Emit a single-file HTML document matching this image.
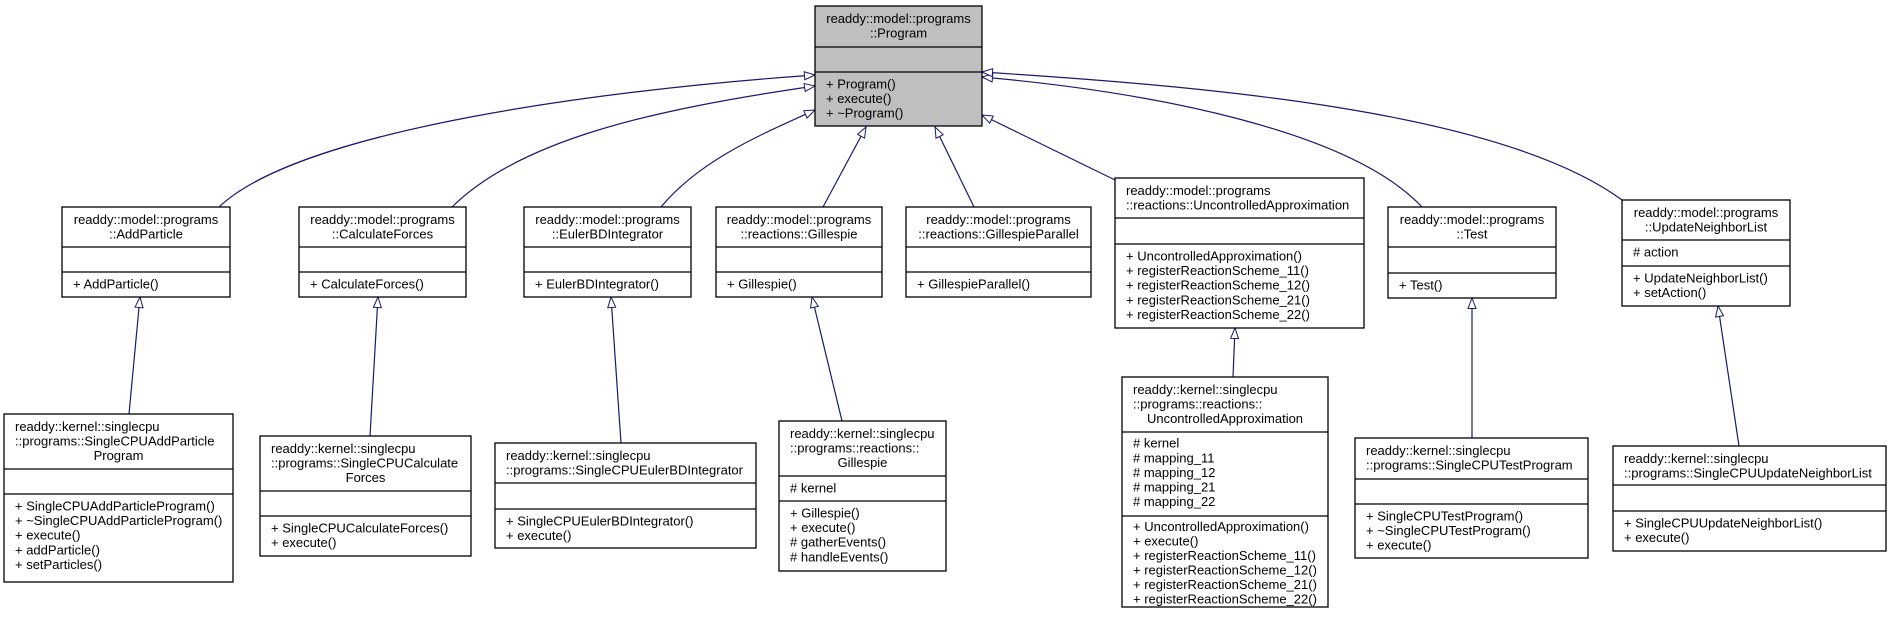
<!DOCTYPE html>
<html><head><meta charset="utf-8"><style>
html,body{margin:0;padding:0;background:#fff;}
svg{display:block;}
text{font-family:"Liberation Sans",Arial,sans-serif;font-size:13px;fill:#000;}
.b{fill:#fff;stroke:#000;stroke-width:1.3;}
.s{stroke:#000;stroke-width:1.3;}
.e{fill:none;stroke:#191970;stroke-width:1.2;}
</style></head><body>
<svg width="1887" height="621" viewBox="0 0 1887 621" xmlns="http://www.w3.org/2000/svg">
<defs>
<marker id="a" viewBox="0 0 12 10" refX="11.5" refY="5" markerWidth="12" markerHeight="10" markerUnits="userSpaceOnUse" orient="auto">
<path d="M1,1 L11.5,5 L1,9 Z" fill="#fff" stroke="#191970" stroke-width="1"/>
</marker>
</defs>

<path class="e" marker-end="url(#a)" d="M219,207 C300,130 600,90 815,75"/>
<path class="e" marker-end="url(#a)" d="M452,207 C520,140 650,110 815,86"/>
<path class="e" marker-end="url(#a)" d="M661,207 C700,160 760,135 815,110"/>
<path class="e" marker-end="url(#a)" d="M823,207 L866,127"/>
<path class="e" marker-end="url(#a)" d="M974,207 L935,127"/>
<path class="e" marker-end="url(#a)" d="M1115,180 L982,115"/>
<path class="e" marker-end="url(#a)" d="M1422,207 C1350,130 1150,92 982,77"/>
<path class="e" marker-end="url(#a)" d="M1622,200 C1500,110 1200,86 982,72"/>
<path class="e" marker-end="url(#a)" d="M129,414 L140,297"/>
<path class="e" marker-end="url(#a)" d="M370,436 L378,297"/>
<path class="e" marker-end="url(#a)" d="M621,443 L611,297"/>
<path class="e" marker-end="url(#a)" d="M842,421 L812,297"/>
<path class="e" marker-end="url(#a)" d="M1233,377 L1235,328"/>
<path class="e" marker-end="url(#a)" d="M1472,438 L1472,298"/>
<path class="e" marker-end="url(#a)" d="M1739,446 L1718,306"/>

<rect x="815" y="6" width="167" height="120" fill="#bfbfbf" stroke="#000" stroke-width="1.3"/>
<line class="s" x1="815" y1="47" x2="982" y2="47"/><line class="s" x1="815" y1="72" x2="982" y2="72"/>
<text x="898.5" y="23" text-anchor="middle">readdy::model::programs</text>
<text x="898.5" y="37.6" text-anchor="middle">::Program</text>
<text x="826" y="88.5">+ Program()</text><text x="826" y="103.1">+ execute()</text><text x="826" y="117.7">+ ~Program()</text>

<rect class="b" x="62" y="207" width="168" height="90"/>
<line class="s" x1="62" y1="247" x2="230" y2="247"/><line class="s" x1="62" y1="272" x2="230" y2="272"/>
<text x="146" y="224" text-anchor="middle">readdy::model::programs</text><text x="146" y="238.6" text-anchor="middle">::AddParticle</text>
<text x="73" y="288.5">+ AddParticle()</text>

<rect class="b" x="299" y="207" width="167" height="90"/>
<line class="s" x1="299" y1="247" x2="466" y2="247"/><line class="s" x1="299" y1="272" x2="466" y2="272"/>
<text x="382.5" y="224" text-anchor="middle">readdy::model::programs</text><text x="382.5" y="238.6" text-anchor="middle">::CalculateForces</text>
<text x="310" y="288.5">+ CalculateForces()</text>

<rect class="b" x="524" y="207" width="167" height="90"/>
<line class="s" x1="524" y1="247" x2="691" y2="247"/><line class="s" x1="524" y1="272" x2="691" y2="272"/>
<text x="607.5" y="224" text-anchor="middle">readdy::model::programs</text><text x="607.5" y="238.6" text-anchor="middle">::EulerBDIntegrator</text>
<text x="535" y="288.5">+ EulerBDIntegrator()</text>

<rect class="b" x="716" y="207" width="166" height="90"/>
<line class="s" x1="716" y1="247" x2="882" y2="247"/><line class="s" x1="716" y1="272" x2="882" y2="272"/>
<text x="799" y="224" text-anchor="middle">readdy::model::programs</text><text x="799" y="238.6" text-anchor="middle">::reactions::Gillespie</text>
<text x="727" y="288.5">+ Gillespie()</text>

<rect class="b" x="906" y="207" width="185" height="90"/>
<line class="s" x1="906" y1="247" x2="1091" y2="247"/><line class="s" x1="906" y1="272" x2="1091" y2="272"/>
<text x="998.5" y="224" text-anchor="middle">readdy::model::programs</text><text x="998.5" y="238.6" text-anchor="middle">::reactions::GillespieParallel</text>
<text x="917" y="288.5">+ GillespieParallel()</text>

<rect class="b" x="1115" y="178" width="249" height="150"/>
<line class="s" x1="1115" y1="218" x2="1364" y2="218"/><line class="s" x1="1115" y1="244" x2="1364" y2="244"/>
<text x="1126" y="195">readdy::model::programs</text><text x="1126" y="209.6">::reactions::UncontrolledApproximation</text>
<text x="1126" y="260.5">+ UncontrolledApproximation()</text>
<text x="1126" y="275.1">+ registerReactionScheme_11()</text>
<text x="1126" y="289.7">+ registerReactionScheme_12()</text>
<text x="1126" y="304.3">+ registerReactionScheme_21()</text>
<text x="1126" y="318.9">+ registerReactionScheme_22()</text>

<rect class="b" x="1388" y="207" width="168" height="91"/>
<line class="s" x1="1388" y1="247" x2="1556" y2="247"/><line class="s" x1="1388" y1="273" x2="1556" y2="273"/>
<text x="1472" y="224" text-anchor="middle">readdy::model::programs</text><text x="1472" y="238.6" text-anchor="middle">::Test</text>
<text x="1399" y="289.5">+ Test()</text>

<rect class="b" x="1622" y="200" width="168" height="106"/>
<line class="s" x1="1622" y1="240" x2="1790" y2="240"/><line class="s" x1="1622" y1="266" x2="1790" y2="266"/>
<text x="1706" y="217" text-anchor="middle">readdy::model::programs</text><text x="1706" y="231.6" text-anchor="middle">::UpdateNeighborList</text>
<text x="1633" y="256.5"># action</text>
<text x="1633" y="282.5">+ UpdateNeighborList()</text><text x="1633" y="297.1">+ setAction()</text>

<rect class="b" x="4" y="414" width="229" height="168"/>
<line class="s" x1="4" y1="469" x2="233" y2="469"/><line class="s" x1="4" y1="494" x2="233" y2="494"/>
<text x="15" y="431">readdy::kernel::singlecpu</text><text x="15" y="445.6">::programs::SingleCPUAddParticle</text><text x="118.5" y="460.2" text-anchor="middle">Program</text>
<text x="15" y="510.5">+ SingleCPUAddParticleProgram()</text>
<text x="15" y="525.1">+ ~SingleCPUAddParticleProgram()</text>
<text x="15" y="539.7">+ execute()</text>
<text x="15" y="554.3">+ addParticle()</text>
<text x="15" y="568.9">+ setParticles()</text>

<rect class="b" x="260" y="436" width="211" height="120"/>
<line class="s" x1="260" y1="491" x2="471" y2="491"/><line class="s" x1="260" y1="516" x2="471" y2="516"/>
<text x="271" y="453">readdy::kernel::singlecpu</text><text x="271" y="467.6">::programs::SingleCPUCalculate</text><text x="365.5" y="482.2" text-anchor="middle">Forces</text>
<text x="271" y="532.5">+ SingleCPUCalculateForces()</text><text x="271" y="547.1">+ execute()</text>

<rect class="b" x="495" y="443" width="261" height="105"/>
<line class="s" x1="495" y1="483" x2="756" y2="483"/><line class="s" x1="495" y1="509" x2="756" y2="509"/>
<text x="506" y="460">readdy::kernel::singlecpu</text><text x="506" y="474.6">::programs::SingleCPUEulerBDIntegrator</text>
<text x="506" y="525.5">+ SingleCPUEulerBDIntegrator()</text><text x="506" y="540.1">+ execute()</text>

<rect class="b" x="779" y="421" width="167" height="150"/>
<line class="s" x1="779" y1="476" x2="946" y2="476"/><line class="s" x1="779" y1="501" x2="946" y2="501"/>
<text x="790" y="438">readdy::kernel::singlecpu</text><text x="790" y="452.6">::programs::reactions::</text><text x="862.5" y="467.2" text-anchor="middle">Gillespie</text>
<text x="790" y="492.5"># kernel</text>
<text x="790" y="517.5">+ Gillespie()</text><text x="790" y="532.1">+ execute()</text><text x="790" y="546.7"># gatherEvents()</text><text x="790" y="561.3"># handleEvents()</text>

<rect class="b" x="1122" y="377" width="206" height="230"/>
<line class="s" x1="1122" y1="432" x2="1328" y2="432"/><line class="s" x1="1122" y1="516" x2="1328" y2="516"/>
<text x="1133" y="394">readdy::kernel::singlecpu</text><text x="1133" y="408.6">::programs::reactions::</text><text x="1225" y="423.2" text-anchor="middle">UncontrolledApproximation</text>
<text x="1133" y="447.5"># kernel</text><text x="1133" y="462.5"># mapping_11</text><text x="1133" y="477"># mapping_12</text><text x="1133" y="491.5"># mapping_21</text><text x="1133" y="506"># mapping_22</text>
<text x="1133" y="531">+ UncontrolledApproximation()</text><text x="1133" y="545.5">+ execute()</text><text x="1133" y="560">+ registerReactionScheme_11()</text><text x="1133" y="574.5">+ registerReactionScheme_12()</text><text x="1133" y="589">+ registerReactionScheme_21()</text><text x="1133" y="603.5">+ registerReactionScheme_22()</text>

<rect class="b" x="1355" y="438" width="233" height="120"/>
<line class="s" x1="1355" y1="479" x2="1588" y2="479"/><line class="s" x1="1355" y1="504" x2="1588" y2="504"/>
<text x="1366" y="455">readdy::kernel::singlecpu</text><text x="1366" y="469.6">::programs::SingleCPUTestProgram</text>
<text x="1366" y="520.5">+ SingleCPUTestProgram()</text><text x="1366" y="535.1">+ ~SingleCPUTestProgram()</text><text x="1366" y="549.7">+ execute()</text>

<rect class="b" x="1613" y="446" width="273" height="105"/>
<line class="s" x1="1613" y1="485" x2="1886" y2="485"/><line class="s" x1="1613" y1="511" x2="1886" y2="511"/>
<text x="1624" y="463">readdy::kernel::singlecpu</text><text x="1624" y="477.6">::programs::SingleCPUUpdateNeighborList</text>
<text x="1624" y="527.5">+ SingleCPUUpdateNeighborList()</text><text x="1624" y="542.1">+ execute()</text>
</svg>
</body></html>
